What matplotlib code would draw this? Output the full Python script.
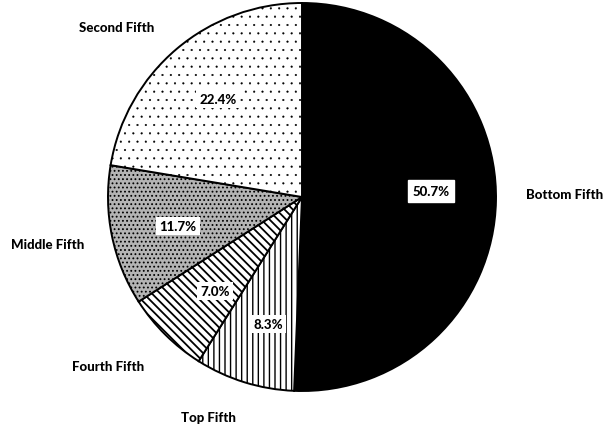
import matplotlib
matplotlib.use("Agg")
from matplotlib import pyplot as plt

# income share by fifth, clockwise from the top
labels = ["Bottom Fifth", "Top Fifth", "Fourth Fifth", "Middle Fifth", "Second Fifth"]
shares = [50.7, 8.3, 7.0, 11.7, 22.4]
faces = ["black", "white", "white", "#b4b4b4", "white"]
hatches = [None, "|||", "\\\\\\\\", "....", ".."]
hatch_lw = [1.0, 1.0, 1.3, 0.8, 0.3]

W, H = 609, 431
plt.rcParams['font.family'] = ['Lato', 'DejaVu Sans']
plt.rcParams['hatch.linewidth'] = 1.0

fig = plt.figure(figsize=(W / 100, H / 100), dpi=100)
ax = fig.add_axes([0, 0, 1, 1])


def py(y):
    # pixel row (from top) to data y
    return H - y


wedges, _ = ax.pie(shares, startangle=90, counterclock=False,
                   center=(302, py(198)), radius=194, colors=faces,
                   wedgeprops=dict(edgecolor='black', linewidth=1.4))
for w, h, lw in zip(wedges, hatches, hatch_lw):
    if h:
        w.set_hatch(h)
        if hasattr(w, "set_hatch_linewidth"):
            w.set_hatch_linewidth(lw)

# pie() resets the limits, so set them afterwards
ax.set_xlim(0, W)
ax.set_ylim(0, H)
ax.set_aspect('equal')
ax.axis('off')

# category labels
name_pos = {
    "Second Fifth": (117, 28),
    "Bottom Fifth": (565, 195),
    "Middle Fifth": (48, 245),
    "Fourth Fifth": (108, 367),
    "Top Fifth": (208, 418),
}
for name in labels:
    x, y = name_pos[name]
    ax.text(x, py(y), name, ha='center', va='center', fontsize=9.5,
            fontweight=900)

# percentage labels, with a cleared patch behind them
pct_pos = [(431, 192), (268, 325), (215, 292), (178, 227), (218, 100)]
for val, (x, y), face in zip(shares, pct_pos, faces):
    box = dict(facecolor='white', edgecolor='none', boxstyle='square,pad=0.25')
    if face == "black":
        box = dict(facecolor='white', edgecolor='white', boxstyle='square,pad=0.35')
    ax.text(x, py(y), "%.1f%%" % val, ha='center', va='center', fontsize=9.5,
            fontweight=900, color='black', bbox=box)

plt.savefig("out.png", dpi=100)
